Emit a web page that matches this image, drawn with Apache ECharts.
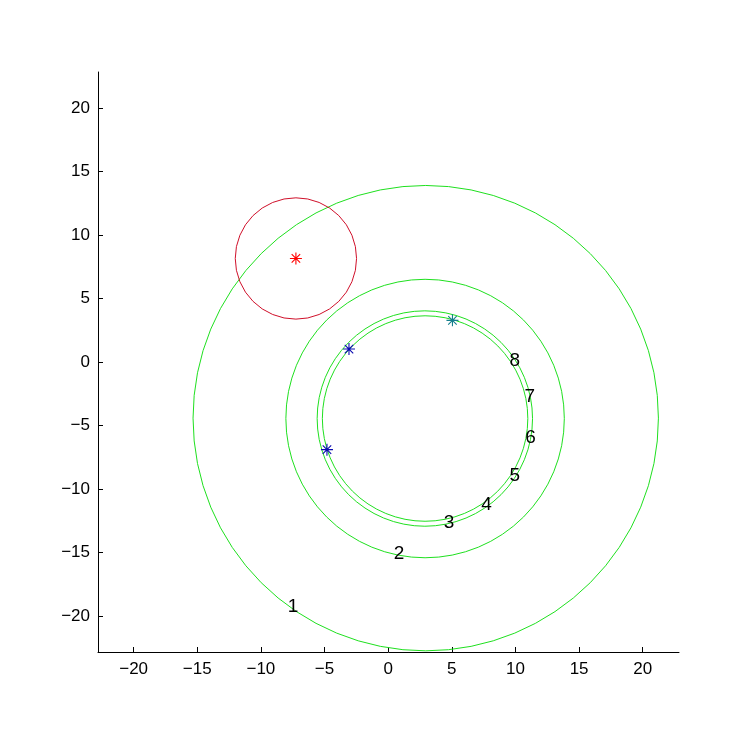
<!DOCTYPE html>
<html>
<head>
<meta charset="utf-8">
<script src="https://cdn.jsdelivr.net/npm/echarts@6/dist/echarts.min.js"></script>
<style>html,body{margin:0;padding:0;background:#fff;}#c{width:750px;height:750px;}</style>
</head>
<body>
<div id="c"></div>
<script>
// ---- data ----
var xTicks = [-20, -15, -10, -5, 0, 5, 10, 15, 20];
var yTicks = [-20, -15, -10, -5, 0, 5, 10, 15, 20];
// green circles: [cx, cy, r]
var greenCircles = [
  [2.95, -4.42, 18.3],
  [2.9, -4.45, 10.95],
  [2.88, -4.45, 8.47],
  [2.9, -4.45, 8.08]
];
// red circle: [cx, cy, r]
var redCircles = [[-7.25, 8.15, 4.77]];
var redStars = [[-7.25, 8.15]];
var blueStars = [[-3.08, 1.02], [-4.81, -6.9]];
var tealStars = [[5.05, 3.28]];
// numbered labels: [x, y, text]
var numLabels = [
  [-7.48, -19.29, '1'],
  [0.85, -15.09, '2'],
  [4.78, -12.68, '3'],
  [7.72, -11.24, '4'],
  [9.95, -8.95, '5'],
  [11.18, -5.98, '6'],
  [11.12, -2.71, '7'],
  [9.95, 0.13, '8']
];

var STAR = 'path://M0,-1L0,1M-1,0L1,0M-0.7071,-0.7071L0.7071,0.7071M-0.7071,0.7071L0.7071,-0.7071';
var FONT = '"Liberation Sans", Arial, sans-serif';

function circleSeries(data, color) {
  return {
    type: 'custom',
    data: data,
    clip: true,
    silent: true,
    encode: { x: 0, y: 1 },
    renderItem: function (params, api) {
      var c = api.coord([api.value(0), api.value(1)]);
      var s = api.size([api.value(2), api.value(2)]);
      return {
        type: 'circle',
        shape: { cx: c[0], cy: c[1], r: (s[0] + s[1]) / 2 },
        style: { fill: 'none', stroke: color, lineWidth: 1 }
      };
    }
  };
}
function starSeries(data, color) {
  return {
    type: 'scatter',
    data: data,
    symbol: STAR,
    symbolSize: 12,
    silent: true,
    itemStyle: { color: 'none', borderColor: color, borderWidth: 1.1, opacity: 1 },
    z: 5
  };
}
function fmt(v) { return String(v).replace('-', '\u2212'); }

var axisCommon = {
  type: 'value',
  splitLine: { show: false },
  axisLine: { show: true, onZero: false, lineStyle: { color: '#000', width: 1 } },
  axisTick: { show: true, inside: true, length: 5, lineStyle: { color: '#000' } },
  axisLabel: { color: '#000', fontSize: 17, fontFamily: FONT, formatter: fmt }
};

var option = {
  animation: false,
  backgroundColor: '#fff',
  grid: { left: 98, right: 71, top: 72, bottom: 98, containLabel: false },
  xAxis: Object.assign({}, axisCommon, {
    min: -22.8, max: 22.85,
    axisTick: Object.assign({}, axisCommon.axisTick, { customValues: xTicks }),
    axisLabel: Object.assign({}, axisCommon.axisLabel, { customValues: xTicks, margin: 9 })
  }),
  yAxis: Object.assign({}, axisCommon, {
    min: -22.83, max: 22.83,
    axisTick: Object.assign({}, axisCommon.axisTick, { customValues: yTicks }),
    axisLabel: Object.assign({}, axisCommon.axisLabel, { customValues: yTicks, margin: 8 })
  }),
  series: [
    circleSeries(greenCircles, '#1fe01f'),
    circleSeries(redCircles, '#d0102a'),
    starSeries(redStars, '#ff0000'),
    starSeries(blueStars, '#0a0ab0'),
    starSeries(tealStars, '#147e8c'),
    {
      type: 'custom',
      data: numLabels,
      silent: true,
      encode: { x: 0, y: 1 },
      z: 6,
      renderItem: function (params, api) {
        var c = api.coord([api.value(0), api.value(1)]);
        return {
          type: 'text',
          x: c[0], y: c[1],
          style: {
            text: numLabels[params.dataIndex][2],
            fill: '#000',
            font: '19px ' + FONT,
            align: 'center',
            verticalAlign: 'middle'
          }
        };
      }
    }
  ]
};
var chart = echarts.init(document.getElementById('c'), null, { renderer: 'canvas' });
chart.setOption(option);
</script>
</body>
</html>
